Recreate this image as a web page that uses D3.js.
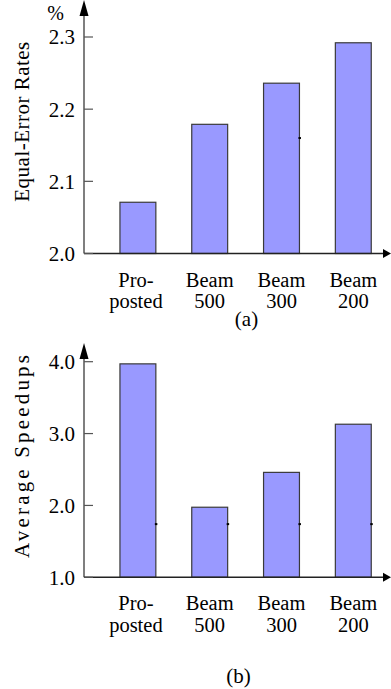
<!DOCTYPE html>
<html><head><meta charset="utf-8">
<script src="https://cdn.jsdelivr.net/npm/d3@7"></script>
</head>
<body style="margin:0;background:#fff;font-family:'Liberation Serif'">
<script>
const FONT = "'Liberation Serif'";
const categoryLines = [["Pro-","posted"],["Beam","500"],["Beam","300"],["Beam","200"]];
const categories = ["Proposted","Beam 500","Beam 300","Beam 200"];
const eerValues = [2.071, 2.179, 2.236, 2.292];
const speedupValues = [3.97, 1.975, 2.46, 3.13];
const eerTicks = [2.0, 2.1, 2.2, 2.3];
const speedupTicks = [1.0, 2.0, 3.0, 4.0];
const eerMarks = [{cat:"Beam 300", v:2.16}];
const speedupMarks = [{cat:"Proposted",v:1.74},{cat:"Beam 500",v:1.74},{cat:"Beam 300",v:1.74},{cat:"Beam 200",v:1.74}];

const W = 391, H = 689;
const svg = d3.select("body").append("svg").attr("width", W).attr("height", H)
  .attr("style", "display:block;font-family:" + FONT);

const x = d3.scaleBand().domain(categories).range([102, 389.2]).paddingInner(0.5).paddingOuter(0.25);
const axisX = 84;

function txt(sel, size){ return sel.attr("style", "font-family:" + FONT + ";font-size:" + size + "px").attr("fill", "#000"); }

function panel(cfg){
  const y = d3.scaleLinear().domain(cfg.domain).range(cfg.range);
  const g = svg.append("g");
  const y0 = y(cfg.domain[0]);
  g.selectAll("rect.bar").data(cfg.values).join("rect")
    .attr("x", (d,i)=>x(categories[i])).attr("width", x.bandwidth())
    .attr("y", d=>y(d)).attr("height", d=>y0 - y(d))
    .attr("fill", "#9999ff").attr("stroke", "#3a3a3a").attr("stroke-width", 1.2);
  g.selectAll("line.mk").data(cfg.marks).join("line")
    .attr("x1", d=>x(d.cat)+x.bandwidth()-1).attr("x2", d=>x(d.cat)+x.bandwidth()+1.5)
    .attr("y1", d=>y(d.v)).attr("y2", d=>y(d.v))
    .attr("stroke", "#000").attr("stroke-width", 2);
  g.append("line").attr("x1", axisX).attr("x2", axisX).attr("y1", cfg.axisTop + 10).attr("y2", y0)
    .attr("stroke", "#555").attr("stroke-width", 1.5);
  g.append("path").attr("d", `M${axisX},${cfg.axisTop} L${axisX-4.5},${cfg.axisTop+16} L${axisX+4.5},${cfg.axisTop+16} Z`).attr("fill", "#000");
  g.append("line").attr("x1", axisX).attr("x2", 384).attr("y1", y0).attr("y2", y0)
    .attr("stroke", "#222").attr("stroke-width", 1.5);
  g.append("path").attr("d", `M391,${y0} L383,${y0-4.5} L383,${y0+4.5} Z`).attr("fill", "#000");
  g.selectAll("line.tk").data(cfg.ticks).join("line")
    .attr("x1", axisX).attr("x2", axisX+9).attr("y1", d=>y(d)).attr("y2", d=>y(d))
    .attr("stroke", "#555").attr("stroke-width", 1.2);
  txt(g.selectAll("text.tl").data(cfg.ticks).join("text"), 21)
    .attr("x", 75).attr("y", d=>y(d)).attr("dy", "0.35em")
    .attr("text-anchor", "end")
    .text(d=>d.toFixed(1));
  [0,1].forEach(line=>{
    txt(g.selectAll("text.cl"+line).data(categoryLines).join("text"), 20.5)
      .attr("text-anchor", "middle")
      .attr("x", (d,i)=>x(categories[i]) + x.bandwidth()/2 - (i===0?2:0))
      .attr("y", y0 + (line===0 ? 33 : 54.5))
      .text(d=>d[line]);
  });
  txt(g.append("text"), 21).attr("transform", `translate(29,${cfg.titleY}) rotate(-90)`)
    .attr("text-anchor", "middle")
    .attr("textLength", cfg.titleLen).attr("lengthAdjust", "spacing")
    .text(cfg.title);
  txt(svg.append("text"), 21).attr("x", cfg.capX).attr("y", cfg.capY).attr("text-anchor", "middle")
    .text(cfg.caption);
}

panel({domain:[2.0,2.3], range:[253.5,37], values:eerValues, ticks:eerTicks, marks:eerMarks,
  axisTop:0, title:"Equal-Error Rates", titleY:121.7, titleLen:160, caption:"(a)", capX:246.5, capY:326});
panel({domain:[1.0,4.0], range:[577.3,361.7], values:speedupValues, ticks:speedupTicks, marks:speedupMarks,
  axisTop:343, title:"Average Speedups", titleY:456.5, titleLen:203, caption:"(b)", capX:238.5, capY:683});

txt(svg.append("text"), 20).attr("x", 55.5).attr("y", 20).attr("text-anchor", "middle").text("%");
</script>
</body></html>
